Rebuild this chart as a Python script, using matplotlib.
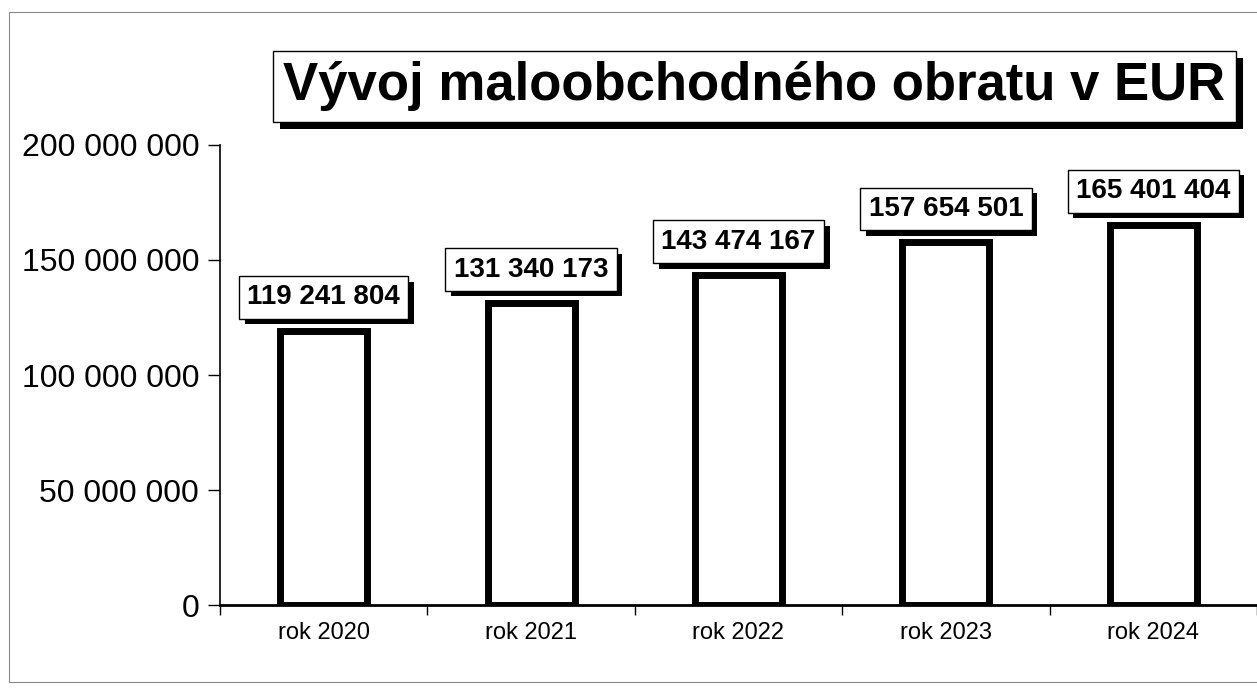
import numpy as np
import matplotlib.pyplot as plt
import matplotlib.patheffects as pe
from matplotlib.patches import Rectangle

# data
years = ['rok 2020', 'rok 2021', 'rok 2022', 'rok 2023', 'rok 2024']
turnover = [119241804, 131340173, 143474167, 157654501, 165401404]
yticks = [0, 50000000, 100000000, 150000000, 200000000]

plt.rcParams['font.family'] = ['Liberation Sans', 'DejaVu Sans']

fig = plt.figure(figsize=(12.57, 6.9), dpi=100)
ax = fig.add_axes([0.175, 0.123, 0.825, 0.667])

x = np.arange(len(years))
ax.bar(x, turnover, width=0.42, color='white', edgecolor='black', linewidth=5, zorder=2)

ax.set_xlim(-0.5, len(years) - 0.5)
ax.set_ylim(0, 200000000)
ax.set_yticks(yticks)
ax.set_yticklabels([f'{v:,}'.replace(',', ' ') for v in yticks], fontsize=23)
ax.set_xticks(x)
ax.set_xticklabels(years, fontsize=17)
ax.tick_params(axis='x', length=0, pad=12)
ax.tick_params(axis='y', length=9, width=1, pad=6)
# category separators on x axis
ax.set_xticks(np.arange(len(years) + 1) - 0.5, minor=True)
ax.tick_params(axis='x', which='minor', length=7, width=1, direction='out')

for s in ['top', 'right']:
    ax.spines[s].set_visible(False)
ax.spines['left'].set_linewidth(1.2)
ax.spines['bottom'].set_linewidth(2)

shadow = [pe.SimplePatchShadow(offset=(4, -4), shadow_rgbFace='black', alpha=1), pe.Normal()]

# value labels with shadow
for xi, v in zip(x, turnover):
    t = ax.annotate(f'{v:,}'.replace(',', ' '), (xi, v), xytext=(0, 24), textcoords='offset points',
                    ha='center', va='center', fontsize=20, fontweight='bold', color='black',
                    bbox=dict(boxstyle='square,pad=0.3', fc='white', ec='black', lw=1), zorder=4)
    t.get_bbox_patch().set_path_effects(shadow)

# title with shadow
tt = fig.text(0.6, 0.875, 'Vývoj maloobchodného obratu v EUR', ha='center', va='center',
              fontsize=38, fontweight='bold',
              bbox=dict(boxstyle='square,pad=0.2', fc='white', ec='black', lw=1))
tt.get_bbox_patch().set_path_effects([pe.SimplePatchShadow(offset=(5, -5), shadow_rgbFace='black', alpha=1),
                                      pe.Normal()])

# outer frame
fig.patches.append(Rectangle((0.007, 0.012), 1.0, 0.97, transform=fig.transFigure,
                             fill=False, ec='#888888', lw=0.8))

plt.savefig('out.png')
